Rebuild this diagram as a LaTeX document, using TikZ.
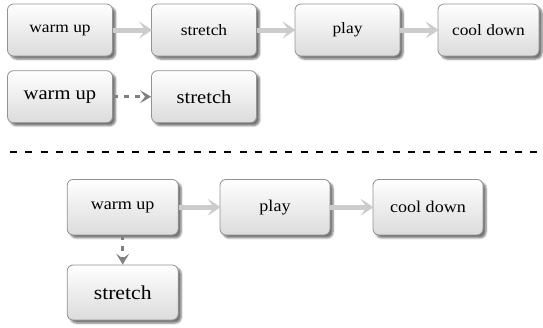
\documentclass[tikz,border=0pt]{standalone}
\usepackage{fontspec}
\setmainfont{Liberation Serif}[FakeStretch=1.1]
\usetikzlibrary{arrows.meta,shadows.blur}
\tikzset{
  boxnode/.style={draw=gray!85, line width=0.8pt, rounded corners=6pt,
    top color=white, bottom color=gray!28, inner sep=0pt,
    blur shadow={shadow xshift=3pt, shadow yshift=-3pt, shadow blur steps=6, shadow opacity=55}},
  flowarrow/.style={draw=gray!40, line width=5pt,
    -{Stealth[length=13pt,width=17pt,inset=6pt]}, shorten >=-1pt},
  dasharrow/.style={draw=gray!100, line width=3.5pt, dash pattern=on 5pt off 6pt,
    -{Stealth[length=11pt,width=13pt,inset=5pt]}},
  fsA/.style={font=\fontsize{15.8}{17}\selectfont},
  fsB/.style={font=\fontsize{18.7}{20}\selectfont},
  fsC/.style={font=\fontsize{16.4}{18}\selectfont},
  fsD/.style={font=\fontsize{19.7}{21}\selectfont},
}
\begin{document}
\begin{tikzpicture}[x=1pt,y=-1pt]
\useasboundingbox (0,0) rectangle (543,327);
% row 1
\node[boxnode,fsA,minimum width=105pt,minimum height=52pt] (a1) at (60,30) {warm up};
\node[boxnode,fsA,minimum width=105pt,minimum height=52pt] (a2) at (204,30) {stretch};
\node[boxnode,fsA,minimum width=105pt,minimum height=52pt] (a3) at (347.5,30) {play};
\node[boxnode,fsA,minimum width=101pt,minimum height=52pt] (a4) at (488.5,30) {cool down};
\draw[flowarrow] (a1) -- (a2);
\draw[flowarrow] (a2) -- (a3);
\draw[flowarrow] (a3) -- (a4);
% row 2
\node[boxnode,fsB,minimum width=105pt,minimum height=52pt] (b1) at (60,96.7) {warm up};
\node[boxnode,fsB,minimum width=105pt,minimum height=52pt] (b2) at (204,96.7) {stretch};
\draw[dasharrow] (b1) -- (b2);
% separator
\coordinate (s1) at (10,152);
\coordinate (s2) at (541,152);
\draw[line width=1.8pt, dash pattern=on 7pt off 8.3pt] (s1) -- (s2);
% bottom
\node[boxnode,fsC,minimum width=111pt,minimum height=55.5pt] (c1) at (122.7,207.2) {warm up};
\node[boxnode,fsC,minimum width=110pt,minimum height=55.5pt] (c2) at (275,207.2) {play};
\node[boxnode,fsC,minimum width=110pt,minimum height=55.5pt] (c3) at (428,207.2) {cool down};
\node[boxnode,fsD,minimum width=111pt,minimum height=55pt] (c4) at (122.7,292.5) {stretch};
\draw[flowarrow] (c1) -- (c2);
\draw[flowarrow] (c2) -- (c3);
\draw[dasharrow] (c1) -- (c4);
\end{tikzpicture}
\end{document}
